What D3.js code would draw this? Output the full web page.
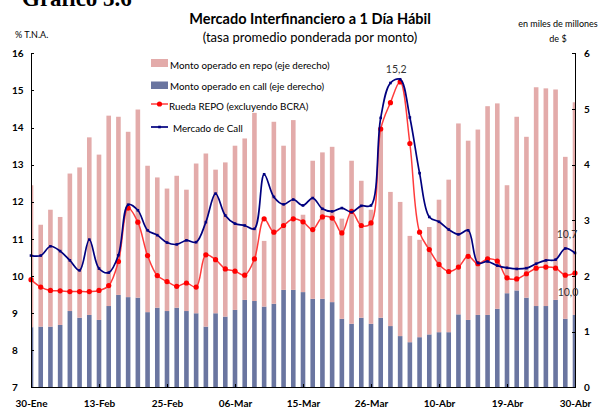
<!DOCTYPE html>
<html lang="es">
<head>
    <meta charset="UTF-8">
    <title>Mercado Interfinanciero a 1 Día Hábil</title>
    <style>
        body { margin: 0; background: #fff; }
        svg text { font-family: Lato, "DejaVu Sans", sans-serif; fill: #000; }
        .axis path, .axis line { stroke: #000; stroke-width: 1px; shape-rendering: crispEdges; }
        .axis text { font-size: 10px; font-weight: bold; }
        .legend text { font-size: 9.8px; }
        .note { font-size: 9px; }
        .vlabel { font-size: 10.5px; fill: #333; }
    </style>
</head>
<body>
    <svg width="603" height="409"></svg>
    <script src="https://d3js.org/d3.v7.min.js"></script>
    <script>
        // business days, labelled every 7th day
        const tickIndex = [0, 7, 14, 21, 28, 35, 42, 49, 56];
        const tickLabels = ["30-Ene", "13-Feb", "25-Feb", "06-Mar", "15-Mar", "26-Mar", "10-Abr", "19-Abr", "30-Abr"];

        // montos (miles de millones de $), eje derecho
        const callAmt = [1.08, 1.09, 1.09, 1.12, 1.37, 1.25, 1.30, 1.21, 1.46, 1.66,
            1.62, 1.61, 1.35, 1.43, 1.37, 1.43, 1.37, 1.33, 1.09, 1.33,
            1.27, 1.39, 1.57, 1.55, 1.45, 1.50, 1.75, 1.75, 1.71, 1.59,
            1.59, 1.53, 1.23, 1.14, 1.25, 1.14, 1.25, 1.10, 0.92, 0.81,
            0.90, 0.95, 0.99, 0.99, 1.31, 1.21, 1.30, 1.30, 1.41, 1.69,
            1.74, 1.61, 1.46, 1.46, 1.57, 1.23, 1.30];
        const repoAmt = [2.55, 1.83, 2.10, 1.94, 2.47, 2.70, 3.19, 2.97, 3.42, 3.20,
            2.97, 3.38, 2.63, 2.34, 2.20, 2.37, 2.18, 2.69, 3.11, 2.58,
            2.77, 2.95, 2.90, 3.38, 1.18, 3.27, 2.59, 3.05, 1.39, 2.48,
            2.63, 2.79, 1.80, 2.93, 2.46, 2.05, 3.42, 2.41, 2.41, 1.91,
            1.75, 1.93, 2.38, 2.74, 3.43, 3.22, 3.33, 3.75, 3.69, 1.94,
            3.12, 2.89, 3.93, 3.91, 3.78, 2.91, 3.82];

        // tasas (% T.N.A.), eje izquierdo
        const repoRate = [9.90, 9.70, 9.61, 9.60, 9.58, 9.58, 9.58, 9.61, 9.74, 10.39,
            11.83, 11.45, 10.55, 10.01, 9.85, 9.72, 9.81, 9.70, 10.57, 10.44,
            10.19, 10.13, 10.02, 10.46, 11.54, 11.18, 11.36, 11.54, 11.46, 11.25,
            11.59, 11.56, 11.16, 11.74, 11.36, 11.43, 13.96, 14.67, 15.23, 13.57,
            11.18, 10.71, 10.31, 10.12, 10.24, 10.53, 10.33, 10.46, 10.40, 9.95,
            9.92, 10.06, 10.21, 10.24, 10.21, 10.02, 10.08];
        const callRate = [10.55, 10.55, 10.80, 10.67, 10.42, 10.15, 10.98, 10.20, 10.09, 10.56,
            11.92, 11.77, 11.23, 11.10, 10.90, 10.85, 10.96, 10.91, 11.45, 12.22,
            11.63, 11.41, 11.36, 11.27, 12.74, 12.13, 11.93, 12.06, 11.90, 12.10,
            11.81, 11.74, 11.83, 11.72, 11.89, 11.90, 14.26, 15.20, 15.30, 14.27,
            12.77, 11.59, 11.46, 11.25, 11.12, 11.23, 10.35, 10.39, 10.28, 10.22,
            10.19, 10.21, 10.33, 10.42, 10.44, 10.74, 10.62];

        const svg = d3.select("svg");
        const plotLeft = 31, plotRight = 575, plotTop = 53.3, plotBottom = 387.3;

        const days = d3.range(callAmt.length);
        const x = d3.scalePoint().domain(days).range([plotLeft, plotRight]);
        const yL = d3.scaleLinear().domain([7, 16]).range([plotBottom, plotTop]);
        const yR = d3.scaleLinear().domain([0, 6]).range([plotBottom, plotTop]);
        const barW = 4.6;

        // clip for the half bars at both ends
        svg.append("clipPath").attr("id", "plot")
            .append("rect").attr("x", plotLeft).attr("y", 0)
            .attr("width", plotRight - plotLeft).attr("height", plotBottom);

        const table = days.map(i => ({ call: callAmt[i], repo: repoAmt[i] }));
        const stacked = d3.stack().keys(["call", "repo"])(table);
        const barColor = { call: "#6a75a0", repo: "#e3abaa" };

        svg.append("g").attr("clip-path", "url(#plot)")
            .selectAll("g")
            .data(stacked)
            .join("g")
            .attr("fill", s => barColor[s.key])
            .selectAll("rect")
            .data(s => s)
            .join("rect")
            .attr("x", (d, i) => x(i) - barW / 2)
            .attr("y", d => yR(d[1]))
            .attr("width", barW)
            .attr("height", d => yR(d[0]) - yR(d[1]));

        // lines
        const line = d3.line()
            .x((d, i) => x(i))
            .y(d => yL(d))
            .curve(d3.curveCatmullRom.alpha(0.5));

        svg.append("path").datum(repoRate)
            .attr("d", line)
            .attr("fill", "none")
            .attr("stroke", "#ff3b3b")
            .attr("stroke-width", 1.5);

        svg.append("g").selectAll("circle")
            .data(repoRate)
            .join("circle")
            .attr("cx", (d, i) => x(i))
            .attr("cy", d => yL(d))
            .attr("r", 2.6)
            .attr("fill", "#ff0000");

        svg.append("path").datum(callRate)
            .attr("d", line)
            .attr("fill", "none")
            .attr("stroke", "#00007f")
            .attr("stroke-width", 1.7);

        svg.append("g").selectAll("rect")
            .data(callRate)
            .join("rect")
            .attr("x", (d, i) => x(i) - 1.3)
            .attr("y", d => yL(d) - 1.3)
            .attr("width", 2.6)
            .attr("height", 2.6)
            .attr("fill", "#00007f");

        // axes
        const axL = svg.append("g").attr("class", "axis")
            .attr("transform", `translate(${plotLeft},0)`)
            .call(d3.axisRight(yL).tickValues(d3.range(7, 17)).tickSize(3).tickFormat(d3.format("d")));
        axL.selectAll("text").attr("x", -19).attr("text-anchor", "start");

        const axR = svg.append("g").attr("class", "axis")
            .attr("transform", `translate(${plotRight},0)`)
            .call(d3.axisLeft(yR).tickValues(d3.range(0, 7)).tickSize(3).tickFormat(d3.format("d")));
        axR.selectAll("text").attr("x", 9).attr("text-anchor", "start");

        const axB = svg.append("g").attr("class", "axis")
            .attr("transform", `translate(0,${plotBottom})`)
            .call(d3.axisTop(x).tickValues(tickIndex).tickSize(3)
                .tickFormat((d, i) => tickLabels[i]));
        axB.select(".domain").attr("d", `M${plotLeft},0H${plotRight}`);
        axB.selectAll("text").attr("y", 20).attr("dy", 0);

        // titles
        svg.append("text").attr("x", 22).attr("y", 6)
            .style("font-family", "'Liberation Serif', serif")
            .style("font-weight", "bold").style("font-size", "23px")
            .text("Gráfico 3.6");
        svg.append("text").attr("x", 310).attr("y", 24).attr("text-anchor", "middle")
            .style("font-weight", "bold").style("font-size", "14.5px")
            .text("Mercado Interfinanciero a 1 Día Hábil");
        svg.append("text").attr("x", 310).attr("y", 42).attr("text-anchor", "middle")
            .style("font-size", "13px")
            .text("(tasa promedio ponderada por monto)");
        svg.append("text").attr("class", "note").attr("x", 15).attr("y", 38).text("% T.N.A.");
        svg.append("text").attr("class", "note").attr("x", 558).attr("y", 27)
            .attr("text-anchor", "middle").text("en miles de millones");
        svg.append("text").attr("class", "note").attr("x", 558).attr("y", 42)
            .attr("text-anchor", "middle").text("de $");

        // value labels
        const vl = svg.append("g");
        vl.append("text").attr("class", "vlabel").attr("x", x(38) - 4).attr("y", 73)
            .attr("text-anchor", "middle").text("15,2");
        vl.append("text").attr("class", "vlabel").attr("x", 567).attr("y", 238)
            .attr("text-anchor", "middle").text("10,7");
        vl.append("text").attr("class", "vlabel").attr("x", 568).attr("y", 296)
            .attr("text-anchor", "middle").text("10,0");

        // legend
        const lg = svg.append("g").attr("class", "legend");
        lg.append("rect").attr("x", 151).attr("y", 59).attr("width", 17).attr("height", 8).attr("fill", barColor.repo);
        lg.append("text").attr("x", 170).attr("y", 68.5).text("Monto operado en repo (eje derecho)");
        lg.append("rect").attr("x", 151).attr("y", 81.5).attr("width", 17).attr("height", 7.5).attr("fill", barColor.call);
        lg.append("text").attr("x", 170).attr("y", 89.5).text("Monto operado en call (eje derecho)");
        lg.append("line").attr("x1", 151).attr("x2", 168).attr("y1", 104).attr("y2", 104)
            .attr("stroke", "#ff3b3b").attr("stroke-width", 1.5);
        lg.append("circle").attr("cx", 159.5).attr("cy", 104).attr("r", 2.6).attr("fill", "#ff0000");
        lg.append("text").attr("x", 169).attr("y", 110).text("Rueda REPO (excluyendo BCRA)");
        lg.append("line").attr("x1", 151).attr("x2", 168).attr("y1", 127).attr("y2", 127)
            .attr("stroke", "#00007f").attr("stroke-width", 1.7);
        lg.append("rect").attr("x", 158.2).attr("y", 125.7).attr("width", 2.6).attr("height", 2.6).attr("fill", "#00007f");
        lg.append("text").attr("x", 173).attr("y", 131.5).text("Mercado de Call");
    </script>
</body>
</html>
